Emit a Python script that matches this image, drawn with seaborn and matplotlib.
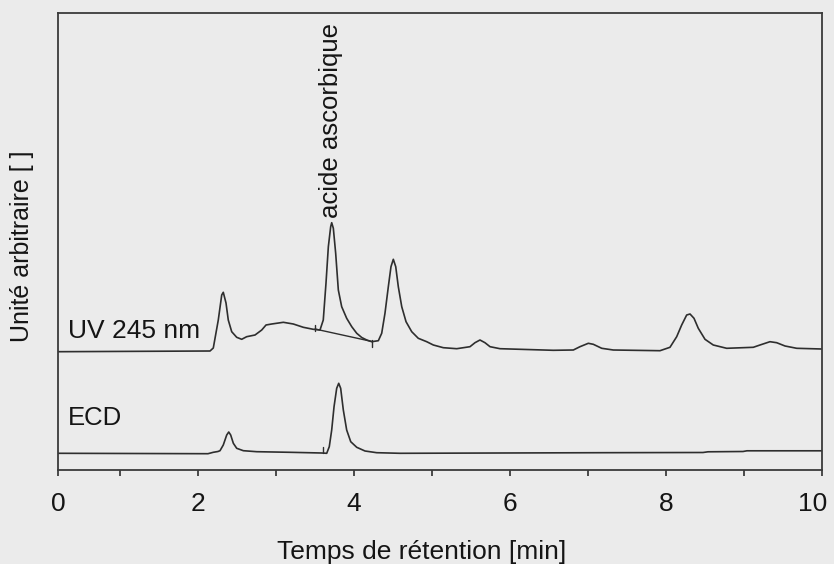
import numpy as np
import pandas as pd
import seaborn as sns
import matplotlib.pyplot as plt
from matplotlib.transforms import ScaledTranslation

# UV 245 nm trace (time in min, signal in arbitrary units)
uv_time = [0.205, 2.154, 2.196, 2.260, 2.304, 2.324, 2.359, 2.388, 2.432, 2.496,
           2.560, 2.624, 2.731, 2.817, 2.872, 2.945, 3.094, 3.222, 3.350, 3.478,
           3.564, 3.606, 3.641, 3.671, 3.701, 3.714, 3.735, 3.765, 3.799, 3.842,
           3.906, 3.971, 4.035, 4.099, 4.163, 4.227, 4.312, 4.355, 4.397, 4.440,
           4.474, 4.504, 4.535, 4.568, 4.612, 4.667, 4.740, 4.824, 4.932, 5.017,
           5.145, 5.317, 5.487, 5.551, 5.615, 5.679, 5.744, 5.872, 6.128, 6.555,
           6.812, 6.897, 7.004, 7.068, 7.176, 7.324, 7.923, 8.051, 8.137, 8.201,
           8.265, 8.308, 8.359, 8.414, 8.500, 8.606, 8.778, 9.119, 9.205, 9.333,
           9.419, 9.526, 9.676, 9.996]
uv_signal = [118.3, 119.0, 122.0, 150.0, 175.0, 177.7, 167.0, 150.0, 138.3, 132.7,
             130.7, 133.3, 135.0, 140.0, 145.0, 146.0, 147.7, 146.0, 142.7, 140.7,
             140.0, 150.0, 187.0, 223.3, 243.3, 247.3, 241.7, 216.7, 180.0, 163.3,
             151.7, 143.3, 136.7, 132.5, 130.0, 128.3, 129.3, 136.7, 156.7, 183.3,
             203.3, 210.7, 203.3, 183.3, 163.3, 148.3, 138.3, 131.7, 128.3, 125.0,
             122.3, 121.3, 123.3, 127.3, 130.0, 127.3, 123.3, 121.3, 120.7, 119.7,
             120.0, 123.3, 126.7, 125.7, 121.7, 120.0, 119.3, 122.7, 133.3, 145.0,
             155.0, 156.0, 151.7, 141.7, 130.7, 125.0, 121.7, 122.7, 125.0, 128.3,
             127.3, 124.0, 121.7, 121.0]

# ECD trace
ecd_time = [0.205, 2.128, 2.196, 2.256, 2.282, 2.324, 2.368, 2.394, 2.419, 2.453,
            2.496, 2.581, 2.753, 3.179, 3.586, 3.650, 3.683, 3.714, 3.744, 3.778,
            3.804, 3.829, 3.863, 3.906, 3.958, 4.035, 4.141, 4.291, 4.590, 7.154,
            8.474, 8.538, 8.987, 9.038, 10.0]
ecd_signal = [16.7, 16.3, 17.7, 18.5, 19.3, 25.0, 35.0, 38.0, 35.0, 26.7,
              21.7, 19.3, 18.3, 17.7, 17.0, 16.7, 23.3, 40.0, 63.3, 81.7,
              86.7, 81.7, 60.0, 40.0, 28.3, 22.7, 19.0, 17.3, 16.7, 17.3,
              17.5, 18.2, 18.5, 19.2, 19.2]

# integration baseline under the ascorbic acid peak + peak start/end marks
skim_time = [3.50, 4.231]
skim_signal = [141.0, 128.5]
uv_marks = [(3.50, 139.0, 145.0), (4.231, 123.0, 130.0)]
ecd_marks = [(3.599, 16.7, 23.3)]

paper = '#ebebeb'
ink = '#2e2e2e'
txt = '#151515'

sns.set_style('ticks')
plt.rcParams['font.family'] = ['Liberation Sans', 'DejaVu Sans']

fig = plt.figure(figsize=(8.34, 5.64), dpi=100, facecolor=paper)
ax = fig.add_axes([58 / 834, 1 - 470 / 564, 764 / 834, 457 / 564])
ax.set_facecolor(paper)

uv = pd.DataFrame({'t': uv_time, 's': uv_signal})
ecd = pd.DataFrame({'t': ecd_time, 's': ecd_signal})
sns.lineplot(data=uv, x='t', y='s', ax=ax, color=ink, lw=1.2, estimator=None)
sns.lineplot(data=ecd, x='t', y='s', ax=ax, color=ink, lw=1.2, estimator=None)
ax.plot(skim_time, skim_signal, color=ink, lw=1.0)
for t, lo, hi in uv_marks + ecd_marks:
    ax.plot([t, t], [lo, hi], color=ink, lw=1.0)

ax.set_xlim(0.205, 10)
ax.set_ylim(0, 457)

ax.set_xticks([0.205, 2, 4, 6, 8, 10])
ax.set_xticklabels(['0', '2', '4', '6', '8', '10'])
ax.set_xticks([1, 3, 5, 7, 9], minor=True)
ax.tick_params(axis='x', which='both', direction='out', length=4.5, width=1.2,
               color=ink, labelsize=19, pad=11, labelcolor=txt)
ax.set_yticks([])
# the last label sits a little inside the right edge, as in the scan
last = ax.get_xticklabels()[-1]
last.set_transform(last.get_transform() + ScaledTranslation(-0.09, 0, fig.dpi_scale_trans))

for sp in ax.spines.values():
    sp.set_color('#3a3a3a')
    sp.set_linewidth(1.3)

ax.set_xlabel('Temps de rétention [min]', fontsize=19, color=txt)
ax.xaxis.set_label_coords(0.476, -0.153)
ax.set_ylabel('Unité arbitraire [ ]', fontsize=18, color=txt)
ax.yaxis.set_label_coords(-0.031, 0.49)

ax.text(0.333, 131.7, 'UV 245 nm', fontsize=19, ha='left', va='baseline', color=txt)
ax.text(0.337, 45.0, 'ECD', fontsize=18.5, ha='left', va='baseline', color=txt)
ax.text(3.705, 252, 'acide ascorbique', fontsize=18.5, rotation=90,
        ha='center', va='bottom', color=txt)

fig.savefig('out.png', dpi=100, facecolor=paper)
